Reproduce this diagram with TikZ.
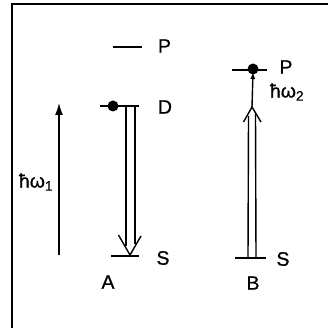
\documentclass[tikz,border=0pt]{standalone}
\usepackage{fontspec}
\setmainfont{Liberation Sans}
\newfontfamily\lblfam[FakeBold=0.8]{Liberation Sans}
\usetikzlibrary{arrows.meta}
\newcommand{\lblfont}{\lblfam\fontsize{19.5pt}{22pt}\selectfont}
\begin{document}
\begin{tikzpicture}[x=1pt,y=-1pt,
  level/.style={line width=1.7pt},
  lbl/.style={font=\lblfont, inner sep=0pt},
  arrline/.style={line width=1.4pt},
  dotstyle/.style={circle, fill=black, inner sep=0pt, minimum size=11pt}]
\useasboundingbox (0,0) rectangle (328,328);
% frame
\draw[line width=1.5pt] (12,330) -- (12,4) -- (330,4);
% left panel levels
\coordinate (PAl) at (113,47); \coordinate (PAr) at (142,47);
\draw[level] (PAl) -- (PAr);
\node[lbl] (PA) at (164.5,46) {P};
\coordinate (DAl) at (100,106); \coordinate (DAr) at (139,106);
\draw[level] (DAl) -- (DAr);
\node[dotstyle] (dotA) at (113,106) {};
\node[lbl] (DA) at (165,107) {D};
\coordinate (SAl) at (111,256); \coordinate (SAr) at (139,256);
\draw[level] (SAl) -- (SAr);
\node[lbl] (SA) at (163,258) {S};
\node[lbl] (A) at (108,282) {A};
% double down arrow
\coordinate (tipA) at (130,255);
\draw[arrline] (126,106) -- (126,246);
\draw[arrline] (135,106) -- (135,244);
\draw[arrline] (118.5,235) -- (tipA) -- (141,236);
% hbar omega1 arrow
\coordinate (w1b) at (59,255); \coordinate (w1t) at (59,103);
\draw[arrline,-{Latex[length=12pt,width=8pt]}] (w1b) -- (w1t);
\node[lbl] (w1) at (36,182) {ħω\textsubscript{1}};
% right panel levels
\coordinate (PBl) at (232,70); \coordinate (PBr) at (267,70);
\draw[level] (PBl) -- (PBr);
\node[dotstyle] (dotB) at (253,69) {};
\node[lbl] (PB) at (286,67) {P};
\node[lbl] (w2) at (287,92) {ħω\textsubscript{2}};
\coordinate (SBl) at (235,258); \coordinate (SBr) at (266,258);
\draw[level] (SBl) -- (SBr);
\node[lbl] (SB) at (283,259) {S};
\node[lbl] (B) at (253,283) {B};
% double up arrow
\coordinate (tipB) at (252,107);
\draw[arrline] (248,258) -- (248.5,116);
\draw[arrline] (256,258) -- (255.5,114);
\draw[arrline] (243.5,122) -- (tipB) -- (261,122);
\draw[arrline,-{Latex[length=7pt,width=5pt]}] (tipB) -- (253,72);
\end{tikzpicture}
\end{document}
